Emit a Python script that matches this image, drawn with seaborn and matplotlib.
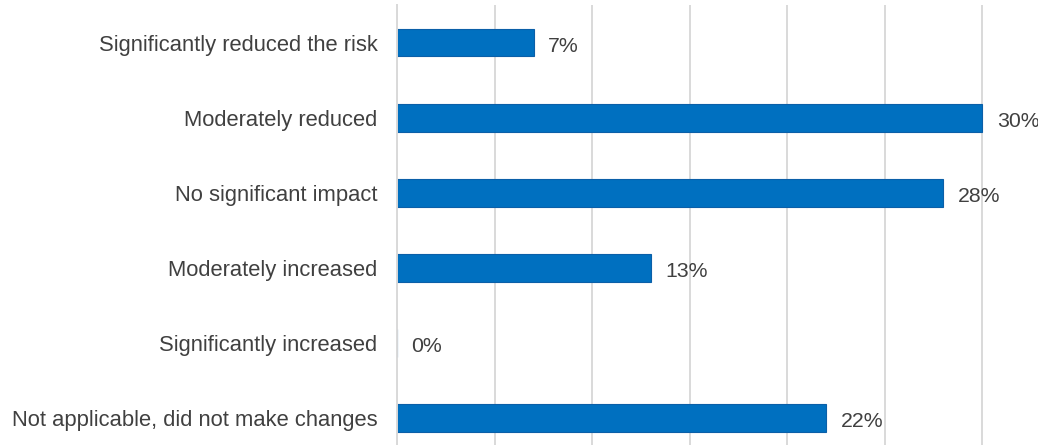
import matplotlib
matplotlib.use("Agg")
import matplotlib.pyplot as plt
import seaborn as sns
import pandas as pd

categories = [
    "Significantly reduced the risk",
    "Moderately reduced",
    "No significant impact",
    "Moderately increased",
    "Significantly increased",
    "Not applicable, did not make changes",
]
shares = [7, 30, 28, 13, 0, 22]
value_labels = ["7%", "30%", "28%", "13%", "0%", "22%"]

sns.set_theme(style="white")
plt.rcParams["font.family"] = ["Liberation Sans", "DejaVu Sans"]

df = pd.DataFrame({"category": categories, "share": shares})

fig = plt.figure(figsize=(10.38, 4.45), dpi=100)
ax = fig.add_axes([397 / 1038, -10.5 / 445, (987 - 397) / 1038, 450.5 / 445])

sns.barplot(data=df, x="share", y="category", orient="h", color="#0070C0",
            saturation=1, width=0.37, edgecolor="#0B5FA8", linewidth=0.8, ax=ax)

ax.set_xlim(0, 30.25)
ax.set_ylim(5.5, -0.5)
ax.set_xticks([0, 5, 10, 15, 20, 25, 30])
ax.set_xticklabels([])
ax.xaxis.grid(True, color="#D9D9D9", linewidth=1.4)
ax.set_axisbelow(True)
ax.tick_params(axis="both", length=0)
ax.tick_params(axis="y", pad=14, labelsize=15.8, labelcolor="#404040")
ax.set_xlabel("")
ax.set_ylabel("")
for side in ["top", "right", "bottom"]:
    ax.spines[side].set_visible(False)
ax.spines["left"].set_color("#D9D9D9")
ax.spines["left"].set_linewidth(1.4)

for i, (v, lab) in enumerate(zip(shares, value_labels)):
    ax.annotate(lab, xy=(v, i), xytext=(10.5, -2.5), textcoords="offset points",
                va="center", ha="left", fontsize=15.3, color="#404040",
                annotation_clip=False)

fig.savefig("out.png", dpi=100)
